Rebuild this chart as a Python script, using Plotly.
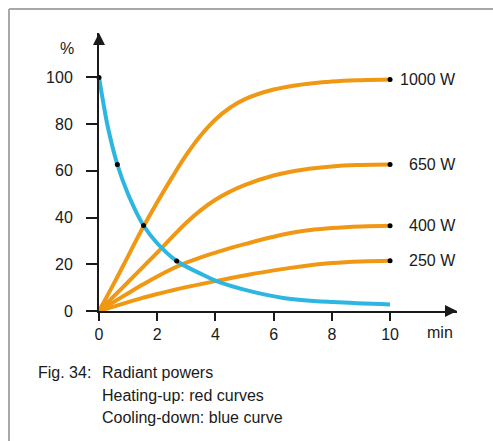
import plotly.graph_objects as go

# ---- data ----
time_min = [0, 0.5, 1, 1.5, 2, 2.5, 3, 3.5, 4, 4.5, 5, 6, 7, 8, 9, 10]
heat_1000 = [0, 11.5, 23.5, 35.5, 46.5, 57, 66.8, 75.2, 82, 87, 90.6, 94.8, 97, 98.2, 98.8, 99.1]
heat_650 = [0, 6.2, 12.4, 18.7, 25, 31.5, 37.8, 43.2, 47.6, 51.1, 53.9, 58, 60.5, 61.9, 62.5, 62.7]
heat_400 = [0, 3.8, 7.6, 11.3, 14.8, 18, 20.7, 23, 25, 26.9, 28.6, 31.8, 34.2, 35.5, 36.2, 36.5]
heat_250 = [0, 1.9, 3.8, 5.6, 7.3, 8.8, 10.2, 11.5, 12.8, 14, 15.2, 17.4, 19.2, 20.5, 21.2, 21.5]

cool_time = [0, 0.15, 0.3, 0.63, 1, 1.53, 2, 2.67, 3.47, 4.04, 5.19, 6.33, 8.05, 10]
cool_blue = [100, 89, 79, 62.7, 50, 36.6, 29, 21.4, 16.1, 12.8, 8.5, 5.6, 3.8, 2.8]

marked_time = [0, 0.63, 1.53, 2.67]
marked_cool = [100, 62.7, 36.6, 21.4]

power_labels = ["1000 W", "650 W", "400 W", "250 W"]
x_ticks = [0, 2, 4, 6, 8, 10]
y_ticks = [0, 20, 40, 60, 80, 100]

ORANGE = "#F09813"
BLUE = "#2DB6DF"
INK = "#1a1a1a"
FONT = "Liberation Sans, Arial, sans-serif"
FS = 16

fig = go.Figure()

heat_series = [heat_1000, heat_650, heat_400, heat_250]
for ys in heat_series:
    fig.add_trace(go.Scatter(x=time_min, y=ys, mode="lines",
                             line=dict(color=ORANGE, width=4, shape="spline", smoothing=1.2),
                             hoverinfo="skip", showlegend=False))

fig.add_trace(go.Scatter(x=cool_time, y=cool_blue, mode="lines",
                         line=dict(color=BLUE, width=4, shape="spline", smoothing=1.0),
                         hoverinfo="skip", showlegend=False))

# end dots of heating curves
fig.add_trace(go.Scatter(x=[time_min[-1]] * 4, y=[s[-1] for s in heat_series], mode="markers",
                         marker=dict(color="black", size=5), showlegend=False, hoverinfo="skip"))
# dots on cooling curve
fig.add_trace(go.Scatter(x=marked_time, y=marked_cool, mode="markers",
                         marker=dict(color="black", size=5), showlegend=False, hoverinfo="skip",
                         cliponaxis=False))

# power labels (right-aligned just past the arrow end)
for lab, ys in zip(power_labels, heat_series):
    fig.add_annotation(x=1.0028, y=ys[-1], xref="paper", yref="y", text=lab, showarrow=False,
                       xanchor="right", yanchor="middle",
                       font=dict(size=FS, color=INK, family=FONT))

# axis arrowheads
fig.add_annotation(x=0, y=119, ax=0, ay=12, axref="pixel", ayref="pixel", xref="x", yref="y",
                   showarrow=True, arrowhead=2, arrowsize=1.2, arrowwidth=2, arrowcolor=INK, text="")
fig.add_annotation(x=12.3, y=0, ax=-12, ay=0, axref="pixel", ayref="pixel", xref="x", yref="y",
                   showarrow=True, arrowhead=2, arrowsize=1.2, arrowwidth=2, arrowcolor=INK, text="")

# axis unit labels
fig.add_annotation(x=-0.0894, y=0.946, xref="paper", yref="paper", text="%", showarrow=False,
                   xanchor="center", yanchor="middle", font=dict(size=FS, color=INK, family=FONT))
fig.add_annotation(x=0.953, y=-0.079, xref="paper", yref="paper", text="min", showarrow=False,
                   xanchor="center", yanchor="middle", font=dict(size=FS, color=INK, family=FONT))

# caption
cap_font = dict(size=FS, color=INK, family=FONT)
fig.add_annotation(x=-0.176, y=-0.223, xref="paper", yref="paper", text="Fig. 34:",
                   showarrow=False, xanchor="left", yanchor="middle", font=cap_font)
caption_lines = ["Radiant powers", "Heating-up: red curves", "Cooling-down: blue curve"]
for i, line in enumerate(caption_lines):
    fig.add_annotation(x=0.0028, y=-0.223 - i * 0.0809, xref="paper", yref="paper", text=line,
                       showarrow=False, xanchor="left", yanchor="middle", font=cap_font)

# frame (top and left)
fig.add_shape(type="line", xref="paper", yref="paper", x0=-0.2514, x1=1.2, y0=1.0863, y1=1.0863,
              line=dict(color="#a8a8a8", width=2))
fig.add_shape(type="line", xref="paper", yref="paper", x0=-0.2514, x1=-0.2514, y0=-0.6, y1=1.0863,
              line=dict(color="#a8a8a8", width=2))

fig.update_layout(
    width=493, height=441,
    margin=dict(l=99, r=36, t=33, b=130),
    plot_bgcolor="white", paper_bgcolor="white",
    showlegend=False,
    xaxis=dict(range=[0, 12.3], tickvals=x_ticks, ticktext=[str(v) for v in x_ticks],
               showgrid=False, zeroline=False, showline=True, linecolor=INK, linewidth=2,
               ticks="outside", ticklen=8, tickwidth=2, tickcolor=INK,
               tickfont=dict(size=FS, color=INK, family=FONT), fixedrange=True),
    yaxis=dict(range=[0, 119], tickvals=y_ticks, ticktext=[str(v) for v in y_ticks],
               showgrid=False, zeroline=False, showline=True, linecolor=INK, linewidth=2,
               ticks="outside", ticklen=11, tickwidth=2, tickcolor=INK, ticklabelstandoff=10,
               tickfont=dict(size=FS, color=INK, family=FONT), fixedrange=True),
)

fig.write_html("out.html", config={"displayModeBar": False},
               post_script="document.body.style.margin='0';document.body.style.overflow='hidden';")
